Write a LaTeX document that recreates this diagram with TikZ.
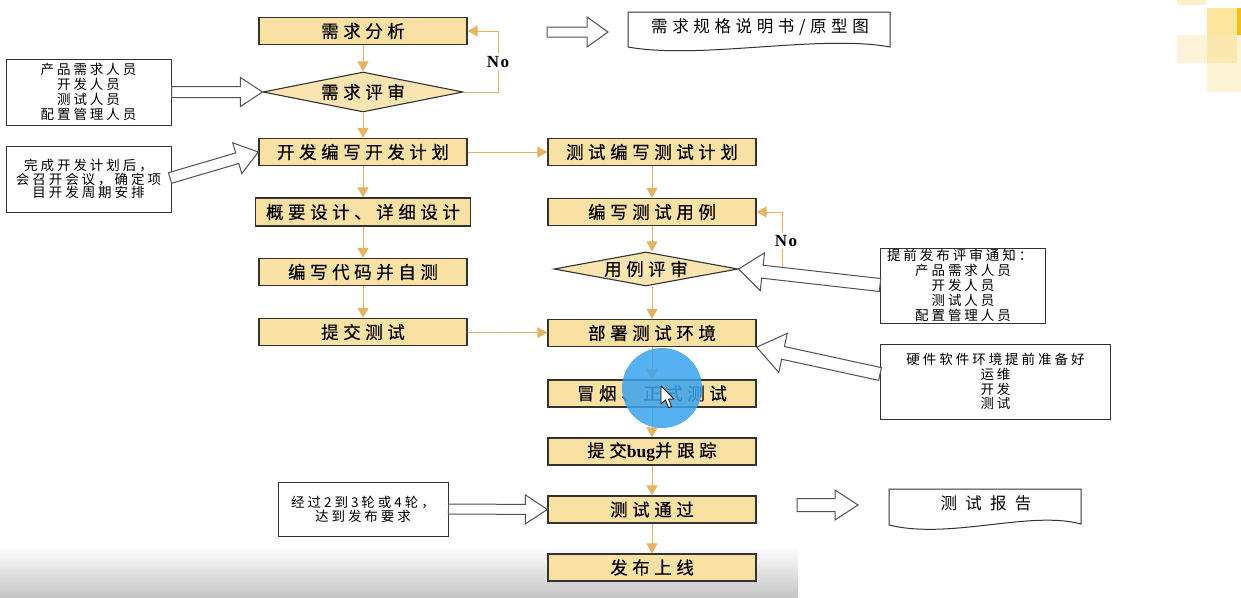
\documentclass[tikz,border=0pt]{standalone}
\usepackage{fontspec}
\usetikzlibrary{arrows.meta,calc,shapes.geometric}
\newfontfamily\cjkA[LetterSpace=26,FakeBold=0.35]{Noto Sans CJK SC}
\newfontfamily\cjkB[LetterSpace=22]{Noto Sans CJK SC}
\newfontfamily\cjkC[LetterSpace=50]{Noto Sans CJK SC}
\newfontfamily\cjkD[LetterSpace=28]{Noto Sans CJK SC}
\newfontfamily\serifB{Liberation Serif}
\definecolor{boxfill}{HTML}{F9E0A3}
\definecolor{connc}{HTML}{E5B462}
\definecolor{edgec}{HTML}{333333}
\definecolor{cursorblue}{HTML}{3AA3EE}
\definecolor{sqa}{HTML}{FDE59C}
\definecolor{sqb}{HTML}{F4BE12}
\definecolor{sqc}{HTML}{FEF3D8}
\definecolor{sqd}{HTML}{FCE8AE}
\definecolor{sqe}{HTML}{FEF4D6}
\definecolor{sqf}{HTML}{FDF0CC}
\tikzset{
 proc/.style={draw=edgec, line width=1.3pt, fill=boxfill, minimum width=208pt, minimum height=27pt, inner sep=0pt, font=\cjkA\fontsize{17.5}{18}\selectfont},
 decis/.style={diamond, aspect=5, draw=edgec, line width=1.1pt, fill=boxfill!85!white, inner sep=0pt, font=\cjkA\fontsize{17.5}{18}\selectfont},
 note/.style={draw=edgec, line width=1pt, fill=white, align=center, inner sep=0pt, font=\cjkB\fontsize{13.5}{15}\selectfont},
 flow/.style={draw=connc, line width=1pt, -{Triangle[width=11pt,length=10pt]}},
 hollow/.style={draw=edgec!85, line width=1pt, fill=white, line join=miter},
 docshape/.style={draw=edgec, line width=1pt, fill=white},
 doctext/.style={inner sep=0pt, font=\cjkD\fontsize{16.5}{18}\selectfont},
 nolabel/.style={fill=white, inner sep=2pt, font=\serifB\bfseries\fontsize{17}{17}\selectfont},
}
\newcommand\blockarrow[5]{%
  \coordinate (baq) at ($(#2)!#5!(#1)$);
  \draw[hollow] ($(#1)!#3!90:(#2)$) -- ($(baq)!#3!90:(#2)$) -- ($(baq)!#4!90:(#2)$) -- (#2) -- ($(baq)!#4!-90:(#2)$) -- ($(baq)!#3!-90:(#2)$) -- ($(#1)!#3!-90:(#2)$) -- cycle;}
\begin{document}
\begin{tikzpicture}[x=1pt,y=-1pt]
\useasboundingbox (0,0) rectangle (1241,597);
\fill[white] (0,0) rectangle (1241,597);
% screen decorations
\shade[top color=white, bottom color=gray!45] (0,546) rectangle (798,597);
\fill[sqf] (1177,0) rectangle (1206,5);
\fill[sqa] (1207,8) rectangle (1237,35);
\fill[sqb] (1237,8) rectangle (1241,35);
\fill[sqc] (1177,35) rectangle (1207,63);
\fill[sqd] (1207,35) rectangle (1237,63);
\fill[sqe] (1207,63) rectangle (1237,92);
\fill[sqe] (1237,35) rectangle (1241,92);

% left column
\node[proc] (req) at (363,31) {需求分析};
\node[decis, minimum width=200pt, minimum height=40pt] (rev) at (363,92) {需求评审};
\node[proc] (devplan) at (363,152) {开发编写开发计划};
\node[proc, minimum width=215pt, minimum height=28pt] (design) at (363,212) {概要设计、详细设计};
\node[proc] (code) at (363,272) {编写代码并自测};
\node[proc] (submit) at (363,332) {提交测试};
% right column
\node[proc] (tplan) at (652,152) {测试编写测试计划};
\node[proc] (tcase) at (652,212) {编写测试用例};
\node[decis, minimum width=184pt, minimum height=34pt] (crev) at (646,269) {用例评审};
\node[proc] (deploy) at (652,333) {部署测试环境};
\node[proc] (smoke) at (652,393.5) {冒烟、正式测试};
\node[proc] (bug) at (652,451.5) {提交{\serifB\bfseries bug}并跟踪};
\node[proc] (pass) at (652,509.5) {测试通过};
\node[proc] (release) at (652,567.5) {发布上线};

% notes
\node[note, minimum width=165pt, minimum height=66pt] (n1) at (88.5,92) {产品需求人员\\开发人员\\测试人员\\配置管理人员};
\node[note, minimum width=165pt, minimum height=66pt, font=\cjkB\fontsize{13.5}{13.8}\selectfont] (n2) at (88.5,179) {完成开发计划后，\\会召开会议，确定项\\目开发周期安排};
\node[note, minimum width=165pt, minimum height=75pt] (n3) at (963,285.5) {\makebox[152pt][l]{提前发布评审通知：}\\产品需求人员\\开发人员\\测试人员\\配置管理人员};
\node[note, minimum width=230pt, minimum height=75pt, font=\cjkB\fontsize{13.5}{14.7}\selectfont] (n4) at (995.5,381.5) {硬件软件环境提前准备好\\运维\\开发\\测试};
\node[note, minimum width=170pt, minimum height=54pt, font=\cjkB\fontsize{13.5}{14}\selectfont] (n5) at (363,509) {经过2到3轮或4轮，\\达到发布要求};

% documents
\draw[docshape] (628,12) -- (890,12) -- (890,47) .. controls (820,34) and (700,60) .. (628,47) -- cycle;
\node[doctext] (spec) at (760,27) {需求规格说明书/原型图};
\draw[docshape] (889,489) -- (1081,489) -- (1081,524) .. controls (1030,510) and (950,540) .. (889,525) -- cycle;
\node[doctext, font=\cjkC\fontsize{16.5}{18}\selectfont] (report) at (986,503) {测试报告};

% flow connectors
\draw[flow] (req) -- (rev);
\draw[flow] (rev) -- (devplan);
\draw[flow] (devplan) -- (design);
\draw[flow] (design) -- (code);
\draw[flow] (code) -- (submit);
\draw[flow] (devplan) -- (tplan);
\draw[flow] (submit) -- (deploy);
\draw[flow] (tplan) -- (tcase);
\draw[flow] (tcase) -- (tcase |- crev.north);
\draw[flow] (crev.south -| deploy) -- (deploy);
\draw[flow] (deploy) -- (smoke);
\draw[flow] (smoke) -- (bug);
\draw[flow] (bug) -- (pass);
\draw[flow] (pass) -- (release);
% No loops
\draw[flow] (rev.east) -- ++(35,0) |- (req.east);
\node[nolabel] (no1) at (498,62) {N\hspace{1.5pt}o};
\draw[flow] (crev.east) -- ++(44,0) |- (tcase.east);
\node[nolabel] (no2) at (786,241) {N\hspace{1.5pt}o};

% block arrows
\coordinate (a2t) at (170,178);
\coordinate (a3t) at (880,285);
\coordinate (a4t) at (880,374);
\blockarrow{n1.east}{rev.west}{5.5pt}{14.5pt}{22pt}
\blockarrow{a2t}{devplan.west}{5.5pt}{16pt}{22pt}
\blockarrow{a3t}{crev.east}{6.5pt}{19pt}{24pt}
\blockarrow{a4t}{deploy.south east}{6.5pt}{20pt}{27pt}
\blockarrow{n5.east}{pass.west}{5pt}{14.5pt}{22pt}
\coordinate (h1a) at (547,32);
\coordinate (h1b) at (608,32);
\blockarrow{h1a}{h1b}{5pt}{15pt}{21pt}
\coordinate (h2a) at (797,505);
\coordinate (h2b) at (858,505);
\blockarrow{h2a}{h2b}{6.5pt}{15pt}{23pt}

% screen-recording cursor highlight
\fill[cursorblue, opacity=0.85] (662,388) circle (40pt);
\draw[black, line width=0.8pt, fill=white, line join=round] (661,386) -- (661,404) -- (665.5,400) -- (668.5,407.5) -- (671.5,406.5) -- (668.5,399) -- (674,399) -- cycle;
\end{tikzpicture}
\end{document}
